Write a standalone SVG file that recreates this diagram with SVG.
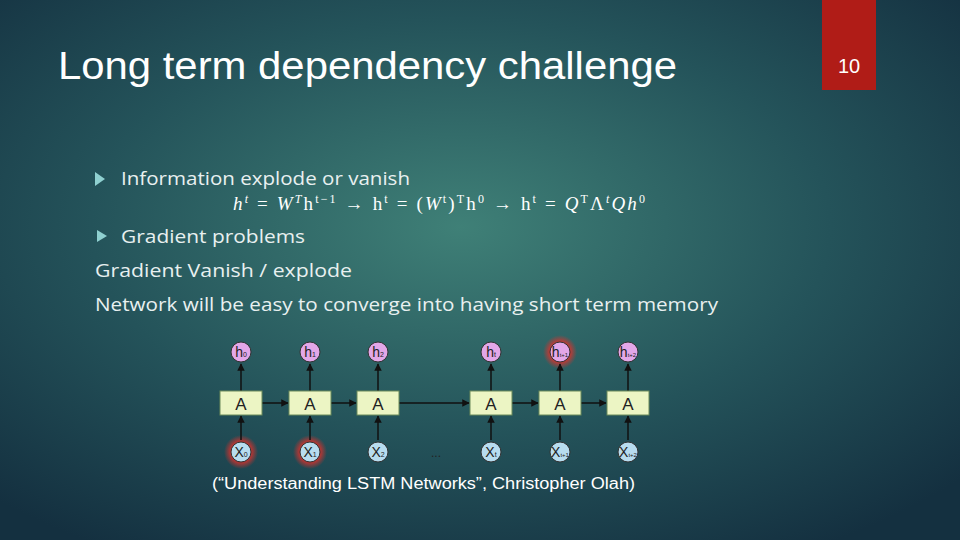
<svg xmlns="http://www.w3.org/2000/svg" width="960" height="540" viewBox="0 0 960 540">
<defs>
<radialGradient id="bg" cx="0.48" cy="0.42" r="0.7">
<stop offset="0" stop-color="#3f8077"/><stop offset="0.55" stop-color="#24535a"/><stop offset="1" stop-color="#143040"/>
</radialGradient>
<radialGradient id="glow"><stop offset="0.55" stop-color="#e0302a" stop-opacity="0.9"/><stop offset="1" stop-color="#e0302a" stop-opacity="0"/></radialGradient>
<marker id="ar" viewBox="0 0 10 10" refX="9" refY="5" markerWidth="5" markerHeight="5" orient="auto"><path d="M0,0L10,5L0,10z" fill="#111"/></marker>
<style>
.t{font-family:"Liberation Sans",Arial,sans-serif;fill:#fff}
.b{font-family:"Open Sans","Liberation Sans",sans-serif;fill:#e8f0f0;font-size:19px}
.m{font-family:"Liberation Serif",serif;fill:#fff;font-size:19px}
.box{fill:#ecf5c4;stroke:#6a8a5a;stroke-width:1}
.hc{fill:#e3a7e8;stroke:#333;stroke-width:1}
.xc{fill:#b7dcef;stroke:#333;stroke-width:1}
.lab{font-family:"Liberation Sans",Arial,sans-serif;fill:#222;text-anchor:middle}
.ln{stroke:#111;stroke-width:1.5;fill:none;marker-end:url(#ar)}
</style>
</defs>
<rect width="960" height="540" fill="url(#bg)"/>
<rect x="822" y="0" width="54" height="90" fill="#b01c17"/>
<text class="t" x="849" y="73" font-size="20" text-anchor="middle">10</text>
<text class="t" x="58" y="79" font-size="38" textLength="619" lengthAdjust="spacingAndGlyphs">Long term dependency challenge</text>
<g id="bullets">
<path d="M95,172l10,7l-10,7z" fill="#8fd0d0"/>
<text class="b" x="121" y="185" textLength="289" lengthAdjust="spacingAndGlyphs">Information explode or vanish</text>
<text class="m" x="233" y="210" textLength="412" lengthAdjust="spacing"><tspan font-style="italic">h</tspan><tspan dy="-7" font-size="12" font-style="italic">t</tspan><tspan dy="7"> = </tspan><tspan font-style="italic">W</tspan><tspan dy="-7" font-size="12" font-style="italic">T</tspan><tspan dy="7">h</tspan><tspan dy="-7" font-size="12">t−1</tspan><tspan dy="7"> → h</tspan><tspan dy="-7" font-size="12">t</tspan><tspan dy="7"> = (</tspan><tspan font-style="italic">W</tspan><tspan dy="-7" font-size="12">t</tspan><tspan dy="7">)</tspan><tspan dy="-7" font-size="12">T</tspan><tspan dy="7">h</tspan><tspan dy="-7" font-size="12">0</tspan><tspan dy="7">  → h</tspan><tspan dy="-7" font-size="12">t</tspan><tspan dy="7"> = </tspan><tspan font-style="italic">Q</tspan><tspan dy="-7" font-size="12">T</tspan><tspan dy="7">Λ</tspan><tspan dy="-7" font-size="12" font-style="italic">t</tspan><tspan dy="7" font-style="italic">Qh</tspan><tspan dy="-7" font-size="12">0</tspan></text>
<path d="M97,230l10,6l-10,6z" fill="#8fd0d0"/>
<text class="b" x="121" y="243" textLength="184" lengthAdjust="spacingAndGlyphs">Gradient problems</text>
<text class="b" x="95" y="277" textLength="257" lengthAdjust="spacingAndGlyphs">Gradient Vanish / explode</text>
<text class="b" x="95" y="311" textLength="623" lengthAdjust="spacingAndGlyphs">Network will be easy to converge into having short term memory</text>
</g>
<g id="glows">
<circle cx="560" cy="352" r="17" fill="url(#glow)"/>
<circle cx="241" cy="452" r="17" fill="url(#glow)"/>
<circle cx="310" cy="452" r="17" fill="url(#glow)"/>
</g>
<g id="connectors">
<path class="ln" d="M241,391V364"/><path class="ln" d="M310,391V364"/><path class="ln" d="M378,391V364"/><path class="ln" d="M491,391V364"/><path class="ln" d="M560,391V364"/><path class="ln" d="M628,391V364"/>
<path class="ln" d="M241,440V416"/><path class="ln" d="M310,440V416"/><path class="ln" d="M378,440V416"/><path class="ln" d="M491,440V416"/><path class="ln" d="M560,440V416"/><path class="ln" d="M628,440V416"/>
<path class="ln" d="M262,403H288"/><path class="ln" d="M331,403H356"/><path class="ln" d="M399,403H469"/><path class="ln" d="M512,403H538"/><path class="ln" d="M581,403H606"/>
</g>
<g id="A0"><rect class="box" x="220" y="391" width="42" height="24"/><text class="lab" x="241" y="410" font-size="17">A</text></g>
<g id="A1"><rect class="box" x="289" y="391" width="42" height="24"/><text class="lab" x="310" y="410" font-size="17">A</text></g>
<g id="A2"><rect class="box" x="357" y="391" width="42" height="24"/><text class="lab" x="378" y="410" font-size="17">A</text></g>
<g id="A3"><rect class="box" x="470" y="391" width="42" height="24"/><text class="lab" x="491" y="410" font-size="17">A</text></g>
<g id="A4"><rect class="box" x="539" y="391" width="42" height="24"/><text class="lab" x="560" y="410" font-size="17">A</text></g>
<g id="A5"><rect class="box" x="607" y="391" width="42" height="24"/><text class="lab" x="628" y="410" font-size="17">A</text></g>
<g id="h0"><circle class="hc" cx="241" cy="352" r="10"/><text class="lab" x="241" y="357" font-size="14">h<tspan font-size="7">0</tspan></text></g>
<g id="h1"><circle class="hc" cx="310" cy="352" r="10"/><text class="lab" x="310" y="357" font-size="14">h<tspan font-size="7">1</tspan></text></g>
<g id="h2"><circle class="hc" cx="378" cy="352" r="10"/><text class="lab" x="378" y="357" font-size="14">h<tspan font-size="7">2</tspan></text></g>
<g id="ht"><circle class="hc" cx="491" cy="352" r="10"/><text class="lab" x="491" y="357" font-size="14">h<tspan font-size="7">t</tspan></text></g>
<g id="ht1"><circle class="hc" cx="560" cy="352" r="10"/><text class="lab" x="560" y="357" font-size="14">h<tspan font-size="6">t+1</tspan></text></g>
<g id="ht2"><circle class="hc" cx="628" cy="352" r="10"/><text class="lab" x="628" y="357" font-size="14">h<tspan font-size="6">t+2</tspan></text></g>
<g id="x0"><circle class="xc" cx="241" cy="452" r="10"/><text class="lab" x="241" y="457" font-size="14">X<tspan font-size="7">0</tspan></text></g>
<g id="x1"><circle class="xc" cx="310" cy="452" r="10"/><text class="lab" x="310" y="457" font-size="14">X<tspan font-size="7">1</tspan></text></g>
<g id="x2"><circle class="xc" cx="378" cy="452" r="10"/><text class="lab" x="378" y="457" font-size="14">X<tspan font-size="7">2</tspan></text></g>
<text x="431" y="457" font-family="Liberation Sans,sans-serif" font-size="12" fill="#222">...</text>
<g id="xt"><circle class="xc" cx="491" cy="452" r="10"/><text class="lab" x="491" y="457" font-size="14">X<tspan font-size="7">t</tspan></text></g>
<g id="xt1"><circle class="xc" cx="560" cy="452" r="10"/><text class="lab" x="560" y="457" font-size="14">X<tspan font-size="6">t+1</tspan></text></g>
<g id="xt2"><circle class="xc" cx="628" cy="452" r="10"/><text class="lab" x="628" y="457" font-size="14">X<tspan font-size="6">t+2</tspan></text></g>
<text class="t" x="212" y="489" font-size="16" textLength="423" lengthAdjust="spacingAndGlyphs">(“Understanding LSTM Networks”,  Christopher Olah)</text>
</svg>
